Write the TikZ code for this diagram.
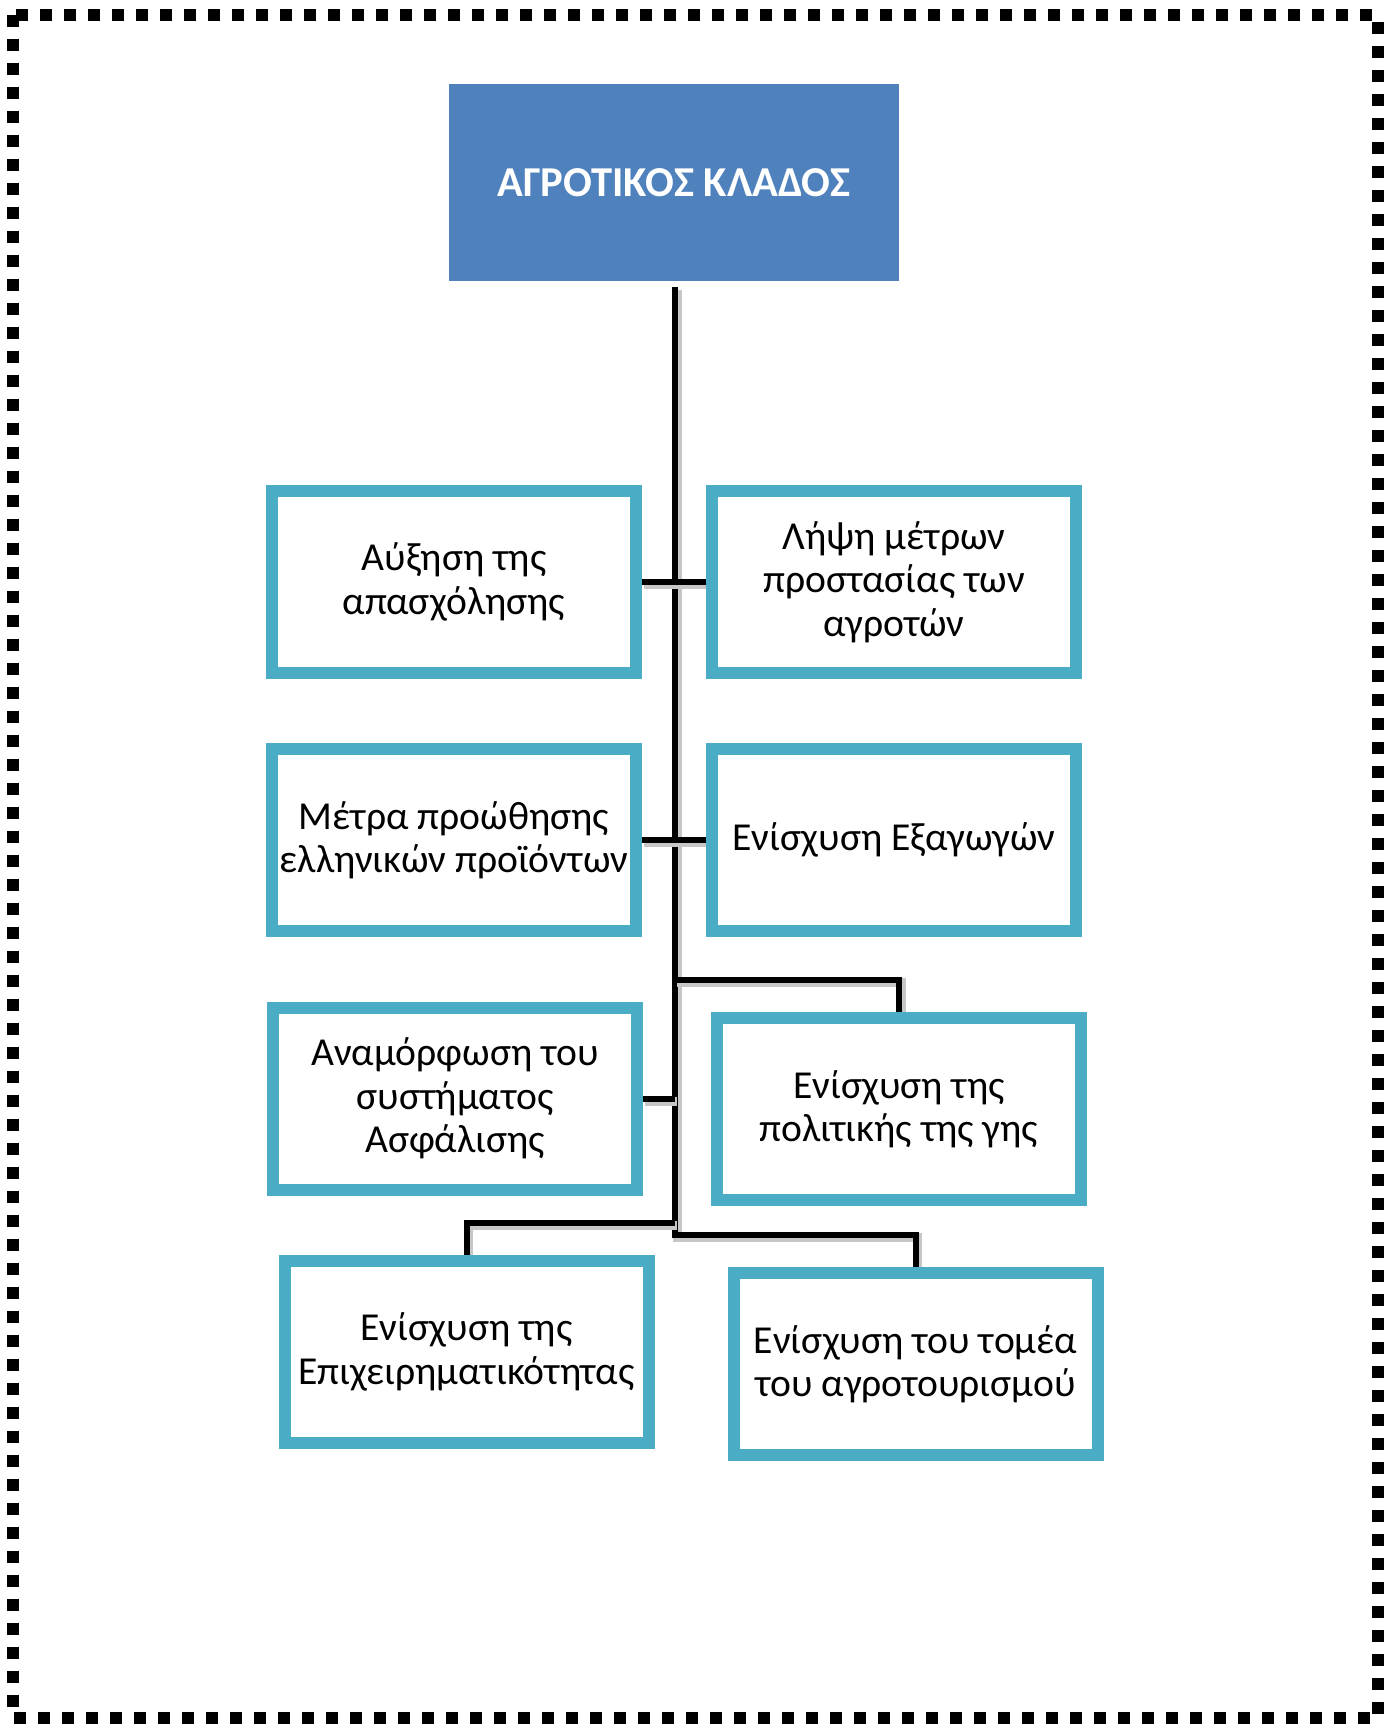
\documentclass[tikz,border=0pt]{standalone}
\usepackage{fontspec}
\setmainfont{Carlito}
\definecolor{titleblue}{HTML}{4F81BD}
\definecolor{boxblue}{HTML}{4BACC6}
\pgfdeclarelayer{background}
\pgfsetlayers{background,main}
\tikzset{
  leaf/.style={draw=boxblue, line width=6pt, fill=white, minimum width=182pt,
    minimum height=91pt, inner sep=0pt, align=center,
    font=\fontsize{19.8}{21.7}\selectfont},
  titlebox/.style={fill=titleblue, minimum width=225pt, minimum height=98.5pt,
    inner sep=0pt, text=white, font=\fontsize{21.3}{25}\selectfont\bfseries},
  link/.style={line width=3pt, draw=black,
    preaction={draw=black!22, line width=4.5pt,
      transform canvas={shift={(1pt,-1.3pt)}}}},
  frame/.style={line width=6pt, dash pattern=on 6pt off 6pt}
}
\begin{document}
\begin{tikzpicture}[x=0.5pt,y=-0.5pt]
\useasboundingbox (0,0) rectangle (1395,1724);
\draw[frame] (13,15) rectangle (1377.5,1718);

\node[titlebox] (title) at (674,182.5) {ΑΓΡΟΤΙΚΟΣ ΚΛΑΔΟΣ};
\node[leaf] (b1) at (454,582) {Αύξηση της\\απασχόλησης};
\node[leaf] (b2) at (894,582) {Λήψη μέτρων\\προστασίας των\\αγροτών};
\node[leaf] (b3) at (454,840) {Μέτρα προώθησης\\ελληνικών προϊόντων};
\node[leaf] (b4) at (894,840) {Ενίσχυση Εξαγωγών};
\node[leaf] (b5) at (455,1098.5) {Αναμόρφωση του\\συστήματος\\Ασφάλισης};
\node[leaf] (b6) at (899,1109) {Ενίσχυση της\\πολιτικής της γης};
\node[leaf] (b7) at (466.5,1352) {Ενίσχυση της\\Επιχειρηματικότητας};
\node[leaf] (b8) at (915.5,1364) {Ενίσχυση του τομέα\\του αγροτουρισμού};

\coordinate (t0) at (675,287);
\coordinate (t8) at (675,1234.5);
\coordinate (j6) at (675,980);
\coordinate (j7) at (675,1222.5);

\begin{pgfonlayer}{background}
  \draw[link] (t0) -- (t8) -| (b8.north);
  \draw[link] (b1.east) -- (b2.west);
  \draw[link] (b3.east) -- (b4.west);
  \draw[link] (b5.east) -- (b5.east -| t0);
  \draw[link] (j6) -| (b6.north);
  \draw[link] (j7) -| (b7.north);
\end{pgfonlayer}
\end{tikzpicture}
\end{document}
